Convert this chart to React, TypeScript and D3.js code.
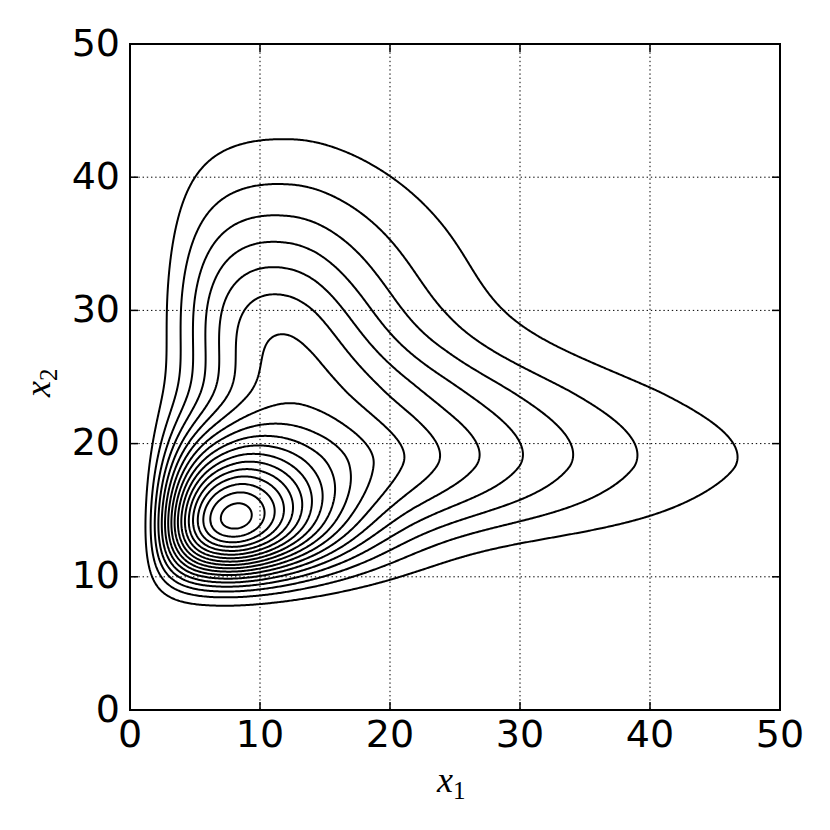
import React from 'react';
import * as d3 from 'd3';

// axis ticks
const xTicks = [0, 10, 20, 30, 40, 50];
const yTicks = [0, 10, 20, 30, 40, 50];
const gridTicks = [10, 20, 30, 40];
// contour levels (in units of the level spacing)
const levels = [1, 2, 3, 4, 5, 6, 7, 8, 9, 10, 11, 12, 13, 14, 15, 16, 17, 18];

// density components, in s = x1^0.2 and v = ln(x2)
const compS = [1.517, 1.852, 1.646, 1.701, 1.893];
const compV = [2.662, 2.907, 3.45, 3.204, 3.173];
const compSigSL = [0.2, 0.243, 0.216, 0.213, 0.276];
const compSigSR = [0.171, 0.16, 0.16, 0.178, 0.173];
const compSigVD = [0.251, 0.207, 0.171, 0.259, 0.181];
const compSigVU = [0.269, 0.16, 0.184, 0.252, 0.16];
const compRho = [0.064, -0.255, 0.092, -0.567, -0.498];
const compW = [18.15, 2.967, 3.607, 2.626, 2.053];

function field(x: number, y: number): number {
  const s = Math.pow(x, 0.2);
  const v = Math.log(y);
  let f = 0;
  for (let k = 0; k < compW.length; k++) {
    const ds = s - compS[k];
    const dv = v - compV[k];
    const a = ds / (ds < 0 ? compSigSL[k] : compSigSR[k]);
    const b = dv / (dv < 0 ? compSigVD[k] : compSigVU[k]);
    const r = compRho[k];
    const q = (a * a - 2 * r * a * b + b * b) / (1 - r * r);
    f += compW[k] * Math.exp(-0.5 * q);
  }
  return f;
}

export default function App() {
  const left = 130, right = 780, top = 44, bottom = 710;
  const xScale = d3.scaleLinear().domain([0, 50]).range([left, right]);
  const yScale = d3.scaleLinear().domain([0, 50]).range([bottom, top]);

  const paths = React.useMemo(() => {
    const n = 500;
    const values = new Float64Array(n * n);
    for (let j = 0; j < n; j++) {
      const y = ((j + 0.5) * 50) / n;
      for (let i = 0; i < n; i++) {
        const x = ((i + 0.5) * 50) / n;
        values[j * n + i] = field(x, y);
      }
    }
    const contours = d3.contours().size([n, n]).thresholds(levels)(values as any);
    const proj = d3.geoTransform({
      point: function (this: any, px: number, py: number) {
        this.stream.point(xScale((px * 50) / n), yScale((py * 50) / n));
      },
    });
    const path = d3.geoPath(proj as any);
    return contours.map((c) => path(c as any) || '');
  }, []);

  const fs = 38;
  return (
    <svg width={830} height={830} style={{ position: 'absolute', left: 0, top: 0, background: '#fff' }}>
      <rect x={0} y={0} width={830} height={830} fill="#fff" />
      <defs>
        <clipPath id="plot">
          <rect x={left} y={top} width={right - left} height={bottom - top} />
        </clipPath>
      </defs>
      <g stroke="#000" strokeWidth={1} strokeDasharray="1.4,2.8">
        {gridTicks.map((t) => (
          <line key={'gx' + t} x1={xScale(t)} x2={xScale(t)} y1={top} y2={bottom} />
        ))}
        {gridTicks.map((t) => (
          <line key={'gy' + t} y1={yScale(t)} y2={yScale(t)} x1={left} x2={right} />
        ))}
      </g>
      <g clipPath="url(#plot)" fill="none" stroke="#000" strokeWidth={2} strokeLinejoin="round">
        {paths.map((d, i) => (
          <path key={i} d={d} />
        ))}
      </g>
      <rect x={left} y={top} width={right - left} height={bottom - top} fill="none" stroke="#000" strokeWidth={2} />
      <g stroke="#000" strokeWidth={1.5}>
        {xTicks.map((t) => (
          <g key={'tx' + t}>
            <line x1={xScale(t)} x2={xScale(t)} y1={bottom} y2={bottom - 8} />
            <line x1={xScale(t)} x2={xScale(t)} y1={top} y2={top + 8} />
          </g>
        ))}
        {yTicks.map((t) => (
          <g key={'ty' + t}>
            <line y1={yScale(t)} y2={yScale(t)} x1={left} x2={left + 8} />
            <line y1={yScale(t)} y2={yScale(t)} x1={right} x2={right - 8} />
          </g>
        ))}
      </g>
      <g fontFamily="DejaVu Sans" fontSize={fs} fill="#000">
        {xTicks.map((t) => (
          <text key={'lx' + t} x={xScale(t)} y={bottom + 37} textAnchor="middle">
            {t}
          </text>
        ))}
        {yTicks.map((t) => (
          <text key={'ly' + t} x={left - 10} y={yScale(t) + 11.5} textAnchor="end">
            {t}
          </text>
        ))}
      </g>
      <text x={437} y={792} fontFamily="Liberation Serif" fontSize={36} fill="#000">
        <tspan fontStyle="italic">x</tspan>
        <tspan fontSize={25} dy={7}>1</tspan>
      </text>
      <text transform="translate(50,397) rotate(-90)" fontFamily="Liberation Serif" fontSize={36} fill="#000">
        <tspan fontStyle="italic">x</tspan>
        <tspan fontSize={25} dy={7}>2</tspan>
      </text>
    </svg>
  );
}
